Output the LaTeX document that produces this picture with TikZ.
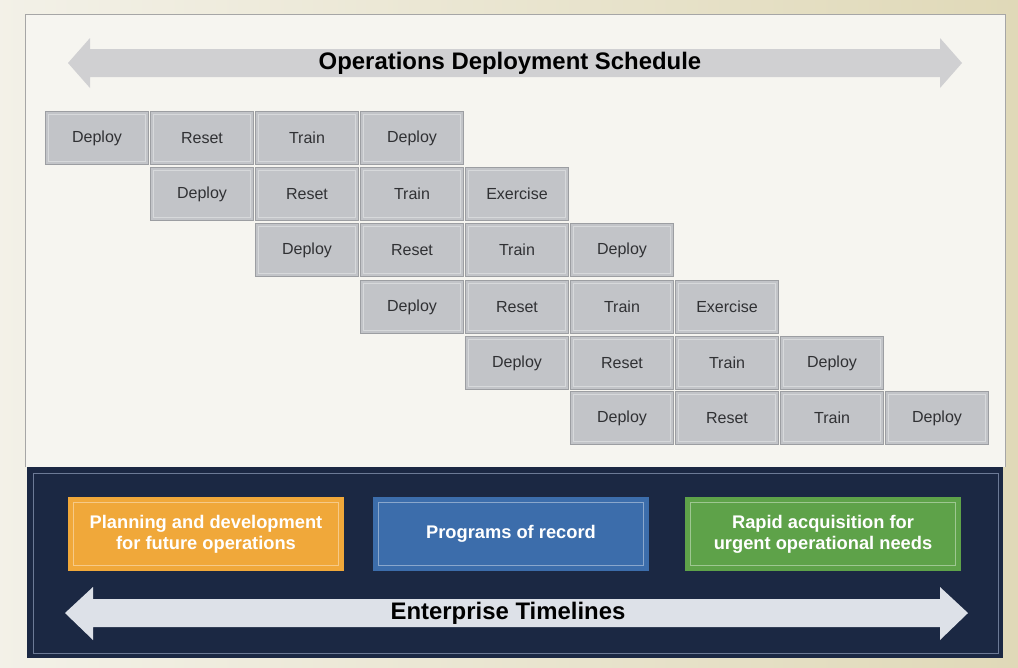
\documentclass[tikz,border=0pt]{standalone}
\usepackage{fontspec}
\setmainfont{Liberation Sans}
\usetikzlibrary{shadows}

\definecolor{bgtan}{HTML}{E0D9B8}
\definecolor{paper}{HTML}{F6F5F0}
\definecolor{navy}{HTML}{1B2843}
\definecolor{navyline}{HTML}{6C7A96}
\definecolor{arrowgray}{HTML}{D0D0D2}
\definecolor{arrowlight}{HTML}{DDE1E8}
\definecolor{blkfill}{HTML}{C2C4C8}
\definecolor{blkedge}{HTML}{9C9EA2}
\definecolor{blktext}{HTML}{303134}
\definecolor{planorange}{HTML}{F0A83A}
\definecolor{porblue}{HTML}{3C6DAB}
\definecolor{rapidgreen}{HTML}{5EA249}

\begin{document}
\begin{tikzpicture}[x=0.025cm, y=-0.025cm,
   blk/.style={draw=blkedge, fill=blkfill, line width=0.7pt,
      minimum width=2.56cm, minimum height=1.31cm, inner sep=0pt,
      text=blktext, font=\fontsize{11.4}{13}\selectfont,
      drop shadow={opacity=0.3, shadow xshift=0.8pt, shadow yshift=-0.9pt},
      path picture={\draw[white!35!blkfill, line width=0.8pt]
         ([xshift=2.2pt,yshift=-2.2pt]path picture bounding box.north west) rectangle
         ([xshift=-2.2pt,yshift=2.2pt]path picture bounding box.south east);}},
   lane/.style={minimum width=6.88cm, minimum height=1.84cm, inner sep=0pt,
      text=white, align=center, font=\bfseries\fontsize{13}{15}\selectfont,
      path picture={\draw[white, opacity=0.4, line width=0.8pt]
         ([xshift=3.5pt,yshift=-3.5pt]path picture bounding box.north west) rectangle
         ([xshift=-3.5pt,yshift=3.5pt]path picture bounding box.south east);}},
   title/.style={font=\bfseries\fontsize{17}{20}\selectfont, text=black}]
   \useasboundingbox (0,0) rectangle (1018,667);
   % frame
   \shade[left color=paper!85!bgtan, right color=bgtan] (0,0) rectangle (1018,667);
   \fill[paper] (25,14) rectangle (1005,467);
   \draw[gray!70, line width=0.7pt] (25,467) -- (25,14) -- (1005,14) -- (1005,467);
   \fill[navy] (27,467) rectangle (1003,658);
   \draw[navyline, line width=0.6pt] (33,473) rectangle (998,653);

   % top arrow
   \fill[arrowgray] (68,63) -- (90,38) -- (90,49) -- (940,49) -- (940,38) -- (962,63)
      -- (940,88) -- (940,77) -- (90,77) -- (90,88) -- cycle;
   \node (ods) at (510,63) [title] {Operations Deployment Schedule};

   % schedule blocks
   \node (a1) at (97,138) [blk] {Deploy};
   \node (a2) at (202,138) [blk] {Reset};
   \node (a3) at (307,138) [blk] {Train};
   \node (a4) at (412,138) [blk] {Deploy};
   \node (b1) at (202,194) [blk] {Deploy};
   \node (b2) at (307,194) [blk] {Reset};
   \node (b3) at (412,194) [blk] {Train};
   \node (b4) at (517,194) [blk] {Exercise};
   \node (c1) at (307,250) [blk] {Deploy};
   \node (c2) at (412,250) [blk] {Reset};
   \node (c3) at (517,250) [blk] {Train};
   \node (c4) at (622,250) [blk] {Deploy};
   \node (d1) at (412,307) [blk] {Deploy};
   \node (d2) at (517,307) [blk] {Reset};
   \node (d3) at (622,307) [blk] {Train};
   \node (d4) at (727,307) [blk] {Exercise};
   \node (e1) at (517,363) [blk] {Deploy};
   \node (e2) at (622,363) [blk] {Reset};
   \node (e3) at (727,363) [blk] {Train};
   \node (e4) at (832,363) [blk] {Deploy};
   \node (f1) at (622,418) [blk] {Deploy};
   \node (f2) at (727,418) [blk] {Reset};
   \node (f3) at (832,418) [blk] {Train};
   \node (f4) at (937,418) [blk] {Deploy};

   % enterprise lanes
   \node (plan) at (206,534) [lane, fill=planorange] {Planning and development\\for future operations};
   \node (por) at (511,534) [lane, fill=porblue] {Programs of record};
   \node (rapid) at (823,534) [lane, fill=rapidgreen] {Rapid acquisition for\\urgent operational needs};

   % bottom arrow
   \fill[arrowlight] (65,613) -- (93,587) -- (93,599) -- (940,599) -- (940,587) -- (968,613)
      -- (940,640) -- (940,627) -- (93,627) -- (93,640) -- cycle;
   \node (ent) at (508,613) [title] {Enterprise Timelines};
\end{tikzpicture}
\end{document}
